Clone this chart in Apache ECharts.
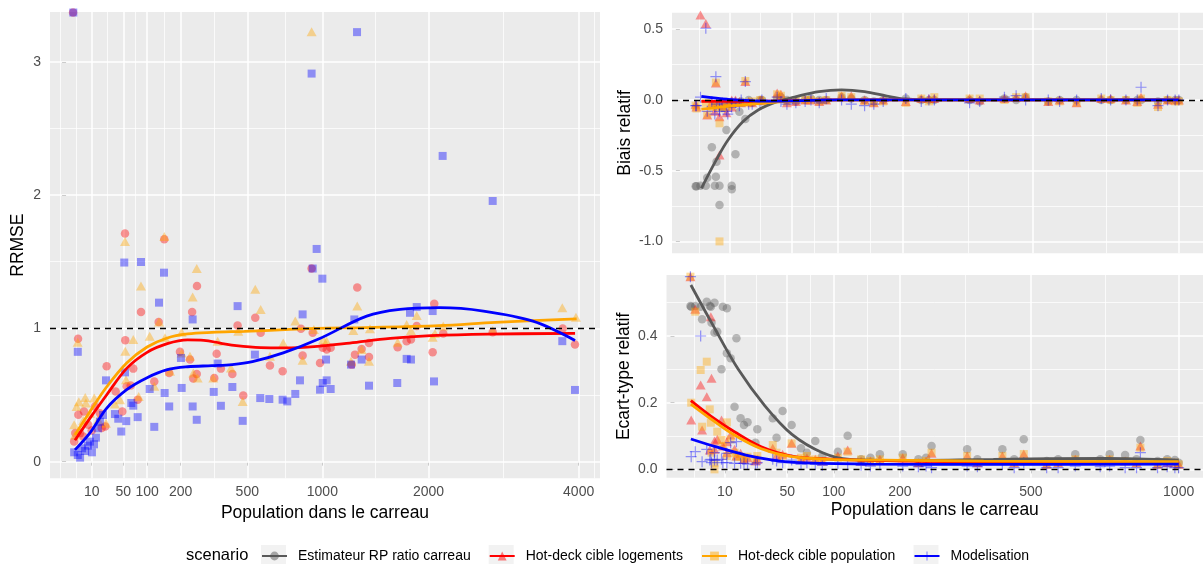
<!DOCTYPE html>
<html>
<head>
<meta charset="utf-8">
<script src="https://cdn.jsdelivr.net/npm/echarts@6/dist/echarts.min.js"></script>
<style>
  html, body { margin: 0; padding: 0; background: #ffffff; }
  #chart { width: 1203px; height: 564px; }
</style>
</head>
<body>
<div id="chart"></div>
<script>
// ---------- data ----------
const scenarios = ['Estimateur RP ratio carreau', 'Hot-deck cible logements', 'Hot-deck cible population', 'Modelisation'];
const ticksPopGauche = [10, 50, 100, 200, 500, 1000, 2000, 4000];
const ticksPopDroite = [10, 50, 100, 200, 500, 1000];
const ticksRrmse = [0, 1, 2, 3];
const ticksBiais = [-1.0, -0.5, 0.0, 0.5];
const ticksEcart = [0.0, 0.2, 0.4];

// RRMSE par carreau : [population, RRMSE]
const rrmseLogements = [[0.75,3.37],[1.0,0.151],[1.3,0.214],[2.2,0.922],[2.3,0.352],[3.0,0.214],[4.5,0.188],[4.9,0.377],[7.5,0.276],[10,0.233],[12.7,0.414],[17.5,0.364],[19.3,0.252],[23.4,0.264],[25.1,0.715],[37.5,0.527],[48.2,0.377],[52.9,1.712],[53.4,0.911],[56,0.565],[63.6,0.572],[68.8,0.698],[78.1,0.465],[85.5,1.122],[118.5,0.602],[130.6,1.047],[146.9,1.669],[162,0.666],[197.6,0.824],[233.8,0.766],[242,1.122],[246.4,0.623],[260,0.658],[261,1.318],[334.5,0.628],[345.4,0.809],[365,0.698],[421,0.658],[448,1.022],[478,0.497],[545,1.08],[576.7,0.967],[633,0.721],[714,0.678],[840,0.997],[852,0.796],[918,1.449],[926,0.967],[982,0.741],[1003,0.854],[1034,0.841],[1066,0.854],[1242,0.728],[1271,0.803],[1291,1.306],[1330,0.846],[1397,0.891],[1397,0.786],[1674,0.858],[1766,0.904],[1811,0.916],[1872,1.017],[2046,0.821],[2064,1.185],[2166,0.962],[2771,0.971],[3755,0.999],[3943,0.879]];
const rrmsePopulation = [[1.0,0.276],[1.2,0.2],[1.7,0.414],[2.06,0.896],[2.5,0.45],[4.5,0.309],[5.6,0.482],[6,0.44],[8.7,0.364],[12.1,0.477],[15.8,0.314],[24.3,0.289],[36.4,0.432],[44.3,0.465],[52.9,1.652],[53.4,0.828],[54.7,0.615],[68.8,0.916],[80.3,0.489],[85.5,1.318],[106.5,0.941],[118.5,0.565],[131.5,1.047],[146.9,1.69],[149,0.929],[164.4,0.678],[203.5,0.971],[203.5,0.816],[233.8,0.791],[244,1.235],[246.4,0.666],[260,1.449],[263.7,0.628],[330,0.628],[350,0.904],[414,0.703],[451.6,0.979],[475,0.452],[545,1.293],[576.7,1.142],[633,0.791],[718,0.891],[800,1.056],[852,0.76],[918,3.226],[935,0.992],[1007,0.916],[1034,0.904],[1236,0.753],[1256,0.984],[1291,1.167],[1330,0.841],[1397,0.753],[1406,0.997],[1674,0.896],[1766,1.029],[1811,0.984],[1872,1.097],[2046,0.934],[2072,0.962],[2166,1.017],[2771,0.984],[3749,1.155],[3958,1.084]];
const rrmseModelisation = [[0.8,3.37],[1.0,0.07],[2.1,0.05],[2.1,0.824],[3.0,0.03],[3.9,0.1],[5.5,0.08],[7.3,0.12],[8.7,0.15],[10.2,0.07],[11.9,0.13],[13.6,0.18],[15.5,0.25],[17.5,0.3],[20.8,0.35],[24.3,0.61],[36.4,0.357],[41.5,0.322],[46.4,0.226],[51.6,1.494],[52.9,0.67],[55.2,0.304],[64.8,0.44],[68.8,0.42],[78.1,0.334],[85.5,1.498],[106.5,0.545],[118.5,0.261],[131.5,1.193],[146,1.418],[148,0.515],[162,0.414],[201,0.778],[203.5,0.553],[244,1.067],[244,0.414],[260,0.314],[332,0.523],[350,0.736],[365,0.419],[421,0.56],[448,1.167],[475,0.306],[543,0.803],[574,0.477],[629,0.47],[714,0.465],[745,0.452],[800,0.508],[833,0.61],[852,1.105],[918,2.912],[926,1.449],[956,1.596],[982,0.54],[1000,1.373],[1003,0.59],[1029,0.766],[1034,0.61],[1066,0.545],[1236,0.728],[1265,1.067],[1289,3.223],[1330,0.766],[1397,0.57],[1670,0.59],[1766,0.771],[1801,1.117],[1811,0.766],[1872,1.16],[2046,1.13],[2061,0.602],[2159,2.294],[2771,1.956],[3749,0.904],[3943,0.538]];

// courbes lissees du RRMSE : [population, valeur]
const lissageRrmseLogements = [[1.21,0.16],[9,0.33],[25,0.5],[56,0.7],[100,0.82],[156,0.885],[225,0.913],[289,0.91],[361,0.89],[441,0.87],[576,0.855],[729,0.853],[961,0.865],[1225,0.89],[1600,0.925],[2025,0.945],[2704,0.957],[3944,0.962]];
const lissageRrmsePopulation = [[1.21,0.2],[9,0.38],[25,0.56],[56,0.74],[100,0.86],[156,0.928],[225,0.958],[324,0.97],[484,0.978],[729,0.99],[961,1.0],[1369,1.006],[2116,1.02],[2809,1.045],[3969,1.072]];
const lissageRrmseModelisation = [[1.21,0.088],[9,0.22],[25,0.4],[56,0.54],[100,0.63],[156,0.69],[225,0.712],[324,0.72],[420,0.728],[529,0.75],[718,0.816],[980,0.924],[1376,1.092],[1697,1.142],[2125,1.155],[2652,1.13],[3318,1.054],[3944,0.909]];

// carreaux de 1000 habitants au plus
const populationCarreau = [1.0,1.1,1.7,2.7,3.0,4.1,4.9,5.2,5.4,6.3,6.3,7.2,8.7,9.2,10.8,10.8,12.4,14.2,15.1,17.2,19,21,25.8,27,38,41,46,54,63,69,78,86,105,118,137,151,166,205,234,249,260,337,361,423,454,480,545,579,632,713,745,799,840,854,918,955,985,1000];

const biaisEstimateur = [-0.61,-0.61,-0.606,-0.606,-0.55,-0.335,-0.606,-0.542,-0.436,-0.606,-0.743,-0.05,-0.212,-0.02,-0.606,-0.632,-0.384,-0.083,-0.01,-0.134,0.0,-0.02,0.0,0.0,0.01,0.02,0.0,-0.01,0.0,0.01,0.0,0.0,0.02,0.01,0.0,-0.01,0.0,0.01,0.0,0.0,0.0,0.0,-0.01,0.01,0.0,0.02,-0.01,0.0,0.0,0.0,0.0,0.0,0.0,0.0,-0.01,0.0,0.0,0.0];
const biaisLogements = [-0.03,-0.05,0.6,0.54,-0.106,-0.02,-0.08,0.12,-0.03,-0.389,-0.118,-0.04,-0.09,-0.02,0.0,-0.05,0.0,-0.01,-0.02,0.13,-0.01,-0.02,0.0,0.0,0.05,0.04,-0.02,-0.01,0.0,0.0,-0.01,0.0,0.03,0.03,0.0,-0.02,0.0,-0.01,0.01,0.01,0.01,0.01,0.0,0.01,0.02,0.03,-0.01,0.0,-0.02,0.01,0.01,0.0,-0.01,0.02,-0.03,0.0,0.0,0.0];
const biaisPopulation = [-0.04,-0.06,0.618,-0.02,-0.106,-0.05,-0.03,0.123,-0.05,-0.165,-1.0,-0.06,-0.05,-0.03,-0.02,-0.04,-0.02,-0.02,-0.02,0.134,-0.02,-0.01,0.0,-0.01,0.04,0.03,-0.01,0.0,0.0,0.0,-0.01,0.0,0.03,0.02,-0.01,-0.02,-0.01,-0.02,0.01,-0.01,0.02,0.01,0.01,0.0,0.02,0.02,-0.01,-0.01,-0.02,0.01,0.0,0.0,-0.02,0.01,-0.05,0.0,-0.01,-0.01];
const biaisModelisation = [-0.04,-0.04,0.02,0.507,-0.08,-0.01,-0.1,0.165,-0.03,-0.08,-0.05,-0.02,-0.08,-0.1,-0.02,-0.05,-0.02,-0.04,0.0,0.13,-0.03,-0.03,-0.02,0.0,0.02,-0.01,-0.03,-0.02,-0.01,0.0,-0.02,0.01,0.0,-0.03,-0.04,-0.03,-0.01,0.01,-0.01,0.0,0.0,-0.02,-0.01,0.02,0.03,0.0,0.0,-0.01,0.0,0.01,0.0,0.0,0.0,0.09,-0.04,0.0,0.0,0.0];

const ecartEstimateur = [0.49,0.488,0.49,0.488,0.45,0.503,0.49,0.488,0.44,0.5,0.41,0.413,0.3,0.488,0.483,0.348,0.333,0.188,0.393,0.153,0.133,0.141,0.08,0.12,0.153,0.095,0.175,0.133,0.063,0.05,0.085,0.04,0.053,0.101,0.03,0.035,0.045,0.045,0.03,0.035,0.07,0.06,0.03,0.06,0.03,0.09,0.025,0.03,0.045,0.03,0.045,0.043,0.03,0.088,0.025,0.03,0.028,0.02];
const ecartLogements = [0.578,0.148,0.48,0.253,0.118,0.218,0.058,0.458,0.273,0.06,0.085,0.09,0.148,0.07,0.083,0.05,0.103,0.06,0.04,0.048,0.03,0.035,0.025,0.03,0.063,0.04,0.045,0.078,0.03,0.035,0.03,0.025,0.04,0.058,0.025,0.025,0.03,0.035,0.02,0.025,0.048,0.04,0.02,0.04,0.02,0.046,0.015,0.02,0.03,0.025,0.03,0.025,0.02,0.07,0.015,0.02,0.02,0.015];
const ecartPopulation = [0.578,0.2,0.473,0.298,0.128,0.323,0.18,0.14,0.05,0.0,0.02,0.113,0.088,0.07,0.141,0.04,0.09,0.05,0.038,0.038,0.03,0.038,0.03,0.04,0.073,0.05,0.04,0.078,0.035,0.04,0.03,0.025,0.035,0.053,0.03,0.025,0.03,0.035,0.02,0.025,0.05,0.04,0.02,0.04,0.02,0.046,0.015,0.02,0.03,0.025,0.03,0.025,0.02,0.065,0.015,0.025,0.02,0.015];
const ecartModelisation = [0.578,0.038,0.053,0.4,0.023,0.06,0.028,0.03,0.02,0.05,0.028,0.028,0.03,0.02,0.048,0.02,0.08,0.018,0.083,0.018,0.018,0.016,0.016,0.02,0.03,0.025,0.02,0.028,0.015,0.02,0.015,0.012,0.018,0.015,0.012,0.01,0.015,0.01,0.008,0.01,0.005,0.01,0.008,0.015,0.005,0.02,0.005,0.005,0.01,0.008,0.01,0.005,0.005,0.05,0.005,0.008,0.005,0.005];

// courbes lissees du biais et de l'ecart-type relatifs
const lissageBiaisEstimateur = [[1.85,-0.625],[5.4,-0.42],[9.3,-0.283],[16,-0.153],[24.6,-0.071],[37.9,-0.012],[54.3,0.024],[77.6,0.059],[105,0.071],[137,0.059],[172,0.028],[204,0.007],[250,0.0],[400,0.0],[1000,0.0]];
const lissageBiaisLogements = [[1.85,-0.01],[9,-0.01],[30,-0.008],[100,0.0],[1000,0.0]];
const lissageBiaisPopulation = [[1.85,-0.065],[9,-0.045],[30,-0.02],[100,0.0],[1000,0.0]];
const lissageBiaisModelisation = [[1.85,0.025],[9,0.005],[30,-0.008],[100,0.0],[1000,0.0]];
const lissageEcartEstimateur = [[1.06,0.553],[5.4,0.44],[16,0.3],[32.3,0.19],[54.3,0.105],[86.3,0.05],[121,0.03],[196,0.027],[400,0.03],[729,0.033],[1000,0.028]];
const lissageEcartLogements = [[1.06,0.206],[5.4,0.158],[14.1,0.113],[29.6,0.068],[54.3,0.04],[95.4,0.031],[213,0.025],[376,0.022],[1000,0.02]];
const lissageEcartPopulation = [[1.06,0.196],[5.4,0.15],[14.1,0.103],[29.6,0.062],[54.3,0.038],[95.4,0.03],[213,0.027],[376,0.025],[1000,0.023]];
const lissageEcartModelisation = [[1.06,0.091],[6.6,0.068],[20,0.043],[38,0.028],[61.6,0.02],[148,0.016],[376,0.015],[1000,0.016]];

// ---------- styles ----------
const FONT = '"Liberation Sans", Arial, Helvetica, sans-serif';
const couleurs = ['#595959', '#FF0000', '#FFA500', '#0000FF'];
const couleursPoints = ['rgba(89,89,89,0.5)', 'rgba(255,0,0,0.5)', 'rgba(255,165,0,0.5)', 'rgba(0,0,255,0.5)'];
const PLUS = 'path://M4.45,0h1.1v4.45h4.45v1.1h-4.45v4.45h-1.1v-4.45h-4.45v-1.1h4.45z';
const formes = ['circle', 'triangle', 'rect', PLUS];
const tailles = [8.5, [10, 9], 8, 11];

const sq = Math.sqrt;
const enRacine = list => list.map(([p, v]) => [sq(p), v]);
const parCarreau = values => populationCarreau.map((p, i) => [sq(p), values[i]]);

// axis ranges (population axis on a square-root scale)
const X_GAUCHE = [-1.98, 65.88];
const X_DROITE = [-0.5, 33.15];
const Y_RRMSE = [-0.125, 3.374];
const Y_BIAIS = [-1.084, 0.617];
const Y_ECART = [-0.025, 0.583];

// minor grid positions: midpoints between breaks, extended by one step past each end
function mineures(b, lo, hi) {
  const bd = b[1] - b[0];
  const ext = b.slice();
  if (lo < ext[0]) ext.unshift(ext[0] - bd);
  if (hi > ext[ext.length - 1]) ext.push(ext[ext.length - 1] + bd);
  const out = [];
  for (let i = 0; i < ext.length - 1; i++) out.push(ext[i], (ext[i] + ext[i + 1]) / 2);
  out.push(ext[ext.length - 1]);
  return out.filter(v => v > lo && v < hi && !b.some(m => Math.abs(m - v) < 1e-9));
}

const tickStyle = { length: 4, lineStyle: { color: '#333333', width: 1 } };
const labelStyle = { color: '#4D4D4D', fontSize: 14, fontFamily: FONT };
const titleStyle = { color: '#000000', fontSize: 17.5, fontFamily: FONT };

function axeX(gridIndex, ticks, range, avecLabels) {
  const vals = ticks.map(sq);
  return {
    type: 'value', gridIndex, min: range[0], max: range[1],
    splitLine: { show: false }, axisLine: { show: false },
    axisTick: Object.assign({ show: avecLabels, customValues: vals }, tickStyle),
    axisLabel: Object.assign({ show: avecLabels, customValues: vals, margin: 7,
      formatter: v => String(Math.round(v * v)) }, labelStyle),
    name: avecLabels ? 'Population dans le carreau' : '',
    nameLocation: 'middle', nameGap: 23, nameTextStyle: titleStyle
  };
}
function axeY(gridIndex, ticks, range, nom, gap, decimales) {
  return {
    type: 'value', gridIndex, min: range[0], max: range[1],
    splitLine: { show: false }, axisLine: { show: false },
    axisTick: Object.assign({ show: true, customValues: ticks }, tickStyle),
    axisLabel: Object.assign({ customValues: ticks, margin: 9,
      formatter: v => v.toFixed(decimales) }, labelStyle),
    name: nom, nameLocation: 'middle', nameRotate: 90, nameGap: gap, nameTextStyle: titleStyle
  };
}

// panel grid lines, kept underneath the marks
function grille(idx, xTicks, xRange, yTicks, yRange) {
  const xs = xTicks.map(sq);
  const majeure = { color: '#FFFFFF', width: 1.5, type: 'solid' };
  const mineure = { color: '#FFFFFF', width: 0.75, type: 'solid' };
  const data = []
    .concat(mineures(xs, xRange[0], xRange[1]).map(v => ({ xAxis: v, lineStyle: mineure })))
    .concat(mineures(yTicks, yRange[0], yRange[1]).map(v => ({ yAxis: v, lineStyle: mineure })))
    .concat(xs.map(v => ({ xAxis: v, lineStyle: majeure })))
    .concat(yTicks.map(v => ({ yAxis: v, lineStyle: majeure })));
  return {
    type: 'line', xAxisIndex: idx, yAxisIndex: idx, data: [], z: 1, silent: true,
    markLine: { z: 1, silent: true, symbol: ['none', 'none'], label: { show: false }, animation: false, data }
  };
}
function reference(idx, y) {
  return {
    type: 'line', xAxisIndex: idx, yAxisIndex: idx, data: [], z: 8, silent: true,
    markLine: { z: 8, silent: true, symbol: ['none', 'none'], label: { show: false }, animation: false,
      data: [{ yAxis: y, lineStyle: { color: '#000000', width: 1.3, type: [6, 5] } }] }
  };
}
function points(idx, data, couleur, forme, taille) {
  return { type: 'scatter', xAxisIndex: idx, yAxisIndex: idx, data, symbol: forme, symbolSize: taille,
    itemStyle: { color: couleur }, z: 3, silent: true, animation: false };
}
function courbe(idx, nom, data, k) {
  return { type: 'line', name: nom, xAxisIndex: idx, yAxisIndex: idx, data: enRacine(data),
    smooth: 0.35, symbol: formes[k], symbolSize: tailles[k], showSymbol: false,
    lineStyle: { color: couleurs[k], width: 2.8 }, itemStyle: { color: couleurs[k] },
    z: 4, silent: true, animation: false };
}

const series = [];
// legend entries come from the lower-right panel curves (declared first)
const lissagesEcart = [lissageEcartEstimateur, lissageEcartLogements, lissageEcartPopulation, lissageEcartModelisation];
const lissagesBiais = [lissageBiaisEstimateur, lissageBiaisLogements, lissageBiaisPopulation, lissageBiaisModelisation];
const biais = [biaisEstimateur, biaisLogements, biaisPopulation, biaisModelisation];
const ecarts = [ecartEstimateur, ecartLogements, ecartPopulation, ecartModelisation];
scenarios.forEach((s, k) => series.push(courbe(2, s, lissagesEcart[k], k)));
scenarios.forEach((s, k) => series.push(courbe(1, s, lissagesBiais[k], k)));

// left panel: three scenarios (circle, triangle, square)
const rrmse = [rrmseLogements, rrmsePopulation, rrmseModelisation];
const lissagesRrmse = [lissageRrmseLogements, lissageRrmsePopulation, lissageRrmseModelisation];
[1, 2, 3].forEach((k, j) => {
  series.push(points(0, enRacine(rrmse[j]), couleursPoints[k], formes[j], tailles[j]));
});
[1, 2, 3].forEach((k, j) => {
  const c = courbe(0, scenarios[k], lissagesRrmse[j], k);
  c.symbol = formes[j]; c.symbolSize = tailles[j];
  series.push(c);
});
scenarios.forEach((s, k) => {
  series.push(points(1, parCarreau(biais[k]), couleursPoints[k], formes[k], tailles[k]));
  series.push(points(2, parCarreau(ecarts[k]), couleursPoints[k], formes[k], tailles[k]));
});
series.push(grille(0, ticksPopGauche, X_GAUCHE, ticksRrmse, Y_RRMSE));
series.push(grille(1, ticksPopDroite, X_DROITE, ticksBiais, Y_BIAIS));
series.push(grille(2, ticksPopDroite, X_DROITE, ticksEcart, Y_ECART));
series.push(reference(0, 1));
series.push(reference(1, 0));
series.push(reference(2, 0));

// legend: one block per scenario with a grey key box
const clesX = [261, 488.7, 701, 913.5];
const legendes = scenarios.map((s, k) => ({
  data: [{ name: s, itemStyle: { color: couleursPoints[k] } }],
  left: clesX[k], top: 549, padding: 0, itemWidth: 25, itemHeight: 11, itemGap: 0,
  selectedMode: false,
  textStyle: { color: '#000000', fontSize: 14, fontFamily: FONT, padding: [0, 0, 0, 6] }
}));
const graphics = [{ type: 'text', left: 186, top: 547, z: 10,
  style: { text: 'scenario', fill: '#000000', font: '16.5px ' + FONT } }]
  .concat(clesX.map(x => ({ type: 'rect', shape: { x, y: 545, width: 25, height: 22 },
    style: { fill: '#F2F2F2' }, z: -10, silent: true })));

const option = {
  animation: false,
  backgroundColor: '#FFFFFF',
  grid: [
    { left: 50, top: 12, width: 550, height: 466.3, show: true, backgroundColor: '#EBEBEB', borderWidth: 0 },
    { left: 672, top: 12.7, width: 533, height: 240.6, show: true, backgroundColor: '#EBEBEB', borderWidth: 0 },
    { left: 666.5, top: 275, width: 538.7, height: 202.7, show: true, backgroundColor: '#EBEBEB', borderWidth: 0 }
  ],
  xAxis: [
    axeX(0, ticksPopGauche, X_GAUCHE, true),
    axeX(1, ticksPopDroite, X_DROITE, false),
    axeX(2, ticksPopDroite, X_DROITE, true)
  ],
  yAxis: [
    axeY(0, ticksRrmse, Y_RRMSE, 'RRMSE', 23, 0),
    axeY(1, ticksBiais, Y_BIAIS, 'Biais relatif', 38, 1),
    axeY(2, ticksEcart, Y_ECART, 'Ecart-type relatif', 33, 1)
  ],
  legend: legendes,
  graphic: graphics,
  series
};

const chart = echarts.init(document.getElementById('chart'), null, { renderer: 'canvas' });
chart.setOption(option);
</script>
</body>
</html>
